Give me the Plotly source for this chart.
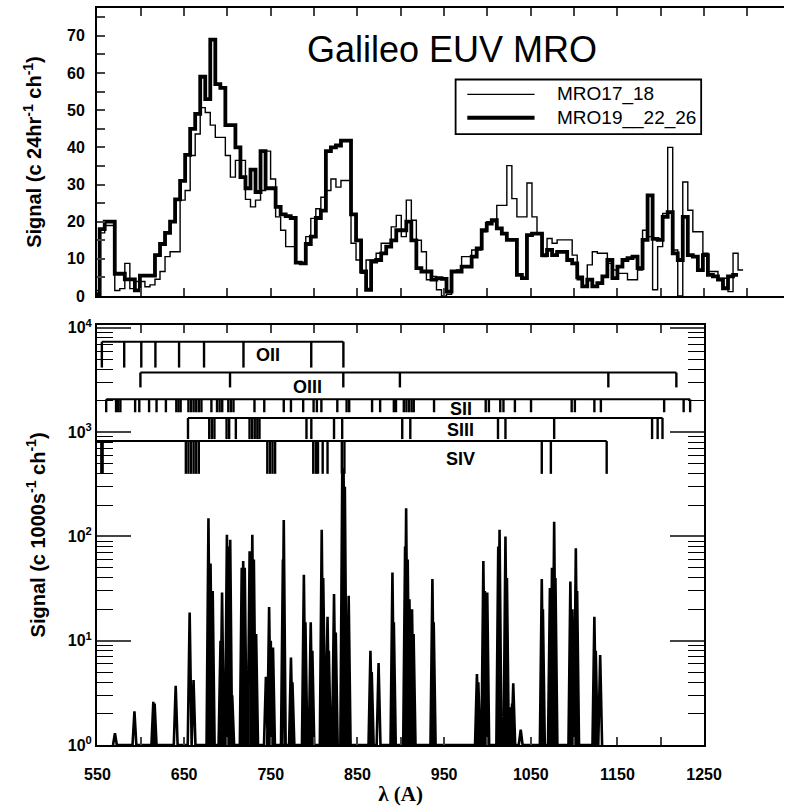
import plotly.graph_objects as go

# ---------------- Top panel: Galileo EUV channel histograms ----------------
chan_start = 546.8   # left edge of first channel (Angstrom)
chan_width = 5.8     # channel width (Angstrom)

mro17_18 = [
    1.5, 17, 19, 19, 1.5, 2, 8.8, 2, 3.9, 3.9,
    2.5, 3, 4.5, 6.6, 10.6, 11.9, 11.9, 25.8, 28.4, 37.8,
    43.6, 50.7, 49.4, 46, 42.7, 42.7, 37.8, 32, 36.5, 36.5,
    26, 24, 25.8, 28.4, 39, 31.5, 21.3, 17.7, 13.3, 13.3,
    8.8, 8.8, 16, 20.9, 23.5, 26.6, 28.4, 31.5, 29.3, 31.1,
    31.1, 14.2, 9.7, 6.1, 9.7, 9.7, 11.5, 14.2, 14.2, 18.6,
    21.7, 16, 25.8, 20.4, 15, 11.9, 4.4, 5.3, 1.7, 0,
    0.5, 6.6, 7, 10.6, 10.6, 12.4, 12.4, 17.3, 20, 20,
    24.4, 24.4, 35.1, 26.2, 21.3, 21.3, 30.4, 21.3, 16.8, 10.6,
    15.5, 14.2, 15.1, 15.1, 15.1, 11, 4.4, 2.6, 8.4, 11.9,
    11.5, 11.5, 8.8, 7, 6.1, 6.1, 4.4, 4.4, 7, 17.7,
    16, 1.7, 13.3, 22.2, 40, 12.4, 0, 30.7, 23.1, 17.3,
    17.3, 11.5, 6.6, 6.6, 4.8, 4.8, 1.2, 11.5, 7,
]

mro19_22_26 = [
    0.5, 18, 20, 20, 6, 6, 4.5, 4.5, 1.5, 5.5,
    5.5, 5.5, 11, 14, 17, 20, 26, 31, 38, 45,
    49, 59, 53, 69, 57, 56, 46, 46, 40, 32,
    29, 34, 28, 39, 29, 29, 24, 22, 21.5, 21,
    9, 8.8, 14, 16, 21, 23, 39, 40, 40.5, 41.8,
    41.8, 22, 15, 6.6, 1.7, 9.3, 9.7, 11.5, 13.3, 15,
    17.7, 17.7, 20, 15, 7.5, 6.6, 6.6, 4.4, 4.8, 4.6,
    1.2, 6.6, 6.6, 7.9, 7.9, 10.6, 12.8, 17.7, 19.5, 20.4,
    18.2, 16.8, 15.1, 15.1, 5.7, 4.8, 16.4, 16.8, 16.8, 11,
    12.4, 11, 11.9, 11.9, 9.7, 8.8, 5, 2.6, 4.4, 2.6,
    3.5, 5.3, 9.7, 4.8, 7.9, 9.7, 10.2, 10.6, 7.5, 15.1,
    27.1, 15.4, 15.1, 21.3, 22.6, 11.5, 9.7, 21.3, 11, 10.6,
    7, 11, 5.7, 5.3, 4.4, 2.1, 5.3, 5.7,
]

# ---------------- Bottom panel: model emission spectrum ----------------
spec_wl = [
    570.2, 592.7, 614.5, 616.0, 640.3, 656.4, 660.9, 678.1, 680.5, 683.0,
    692.0, 693.8, 699.4, 701.5, 703.2, 705.5, 716.5, 718.2, 720.0, 725.6,
    728.7, 730.5, 733.1, 744.4, 748.1, 750.0, 752.6, 764.0, 765.0, 773.3,
    775.0, 788.2, 790.0, 796.1, 798.0, 808.8, 810.5, 815.5, 817.0, 823.0,
    825.0, 832.5, 834.0, 835.5, 838.0, 839.9, 865.0, 866.5, 874.4, 890.4,
    892.0, 905.0, 906.2, 908.0, 910.0, 913.0, 914.8, 936.5, 938.0, 987.9,
    989.5, 995.3, 997.0, 999.8, 1012.5, 1014.0, 1020.8, 1022.5, 1025.3, 1028.5,
    1029.8, 1038.4, 1062.7, 1064.0, 1072.1, 1074.5, 1077.0, 1078.5, 1095.7, 1098.0,
    1102.0, 1103.5, 1123.4, 1125.0, 1130.1,
]
spec_peak = [
    1.3, 2.1, 2.6, 2.5, 3.7, 18.6, 4.2, 149, 55, 30,
    10, 29, 104, 80, 93, 3.0, 50, 58, 50, 72,
    104, 60, 11.6, 4.5, 21, 10, 8.6, 60, 144, 6.9,
    4.0, 43, 15, 15, 8, 116, 40, 17, 8, 28,
    12, 400, 450, 300, 15, 27, 8, 5, 6.1, 45,
    15, 80, 186, 60, 25, 20, 11.6, 39, 15, 4.8,
    4.0, 58, 30, 29, 80, 116, 100, 40, 2.3, 2.5,
    3.9, 1.4, 39, 20, 32, 50, 138, 40, 37, 20,
    77, 30, 17, 8, 7.3,
]

# ---------------- Ion line identifications (Angstrom) ----------------
oii_lines = [555.1, 580.9, 600.6, 616.9, 644.2, 673.0, 718.5, 796.7, 833.8]
oiii_lines = [599.6, 703.0, 833.7, 899.0, 1139.5, 1218.0]
sii_lines = [
    560.1, 571.5, 574.0, 576.5, 593.5, 598.3, 609.6, 618.2, 629.0, 641.0,
    643.5, 646.0, 655.0, 658.0, 661.0, 664.0, 667.0, 670.0, 681.5, 688.0,
    691.0, 694.0, 701.0, 704.0, 707.0, 731.2, 742.5, 765.0, 773.3, 787.4,
    799.4, 803.2, 808.4, 826.8, 837.5, 840.5, 866.9, 876.2, 892.0, 894.5,
    903.5, 906.5, 909.5, 912.5, 915.0, 938.4, 998.0, 1001.7, 1014.8, 1018.5,
    1031.7, 1050.3, 1097.2, 1100.9, 1123.4, 1130.9, 1203.9, 1226.4, 1233.9,
]
siii_lines = [
    654.5, 679.0, 682.0, 685.0, 699.0, 702.0, 709.7, 725.5, 728.5, 731.5,
    734.5, 737.0, 791.2, 796.8, 823.0, 832.4, 901.7, 911.0, 1012.2, 1020.8,
    1077.0, 1190.0, 1196.4, 1202.0,
]
siv_lines = [
    554.5, 556.0, 652.0, 655.0, 658.0, 661.0, 664.0, 667.0, 746.0, 749.0,
    752.0, 755.0, 799.0, 802.0, 804.5, 809.9, 815.5, 832.0, 835.0, 1062.7,
    1073.2, 1137.6,
]

x_ticks = list(range(550, 1351, 50))
top_y_ticks = list(range(0, 76, 5))
log_ticks = [1, 10, 100, 1000, 10000]

# ---------------- Geometry helpers (pixel -> paper) ----------------
W, H = 802, 809
ML, MR, MT, MB = 97, 0, 3, 64


def px(x):
    return (x - ML) / (W - ML - MR)


def py(y):
    return (H - MB - y) / (H - MB - MT)


def steps(values):
    xs = [chan_start + chan_width * i for i in range(len(values) + 1)]
    return xs, list(values) + [values[-1]]


fig = go.Figure()

# top panel histograms
x_thin, y_thin = steps(mro17_18)
x_thick, y_thick = steps(mro19_22_26)
fig.add_trace(go.Scatter(x=x_thin, y=y_thin, mode="lines", line_shape="hv",
                         line=dict(color="black", width=1.4), name="MRO17_18",
                         xaxis="x", yaxis="y", showlegend=False))
fig.add_trace(go.Scatter(x=x_thick, y=y_thick, mode="lines", line_shape="hv",
                         line=dict(color="black", width=3.8), name="MRO19__22_26",
                         xaxis="x", yaxis="y", showlegend=False))

# bottom panel spectrum: each line drawn as a narrow spike from the baseline
hw = 2.2
sx, sy = [], []
for c, a in sorted(zip(spec_wl, spec_peak)):
    sx += [c - hw, c, c + hw]
    sy += [1, a, 1]
fig.add_trace(go.Scatter(x=sx, y=sy, mode="lines",
                         line=dict(color="black", width=2.6),
                         xaxis="x2", yaxis="y2", showlegend=False))

shapes = []
annotations = []

# ion combs: (label, lines, bar y, tick end y, label x in Angstrom, label y)
combs = [
    ("OII", oii_lines, 339, 365, 747, 352),
    ("OIII", oiii_lines, 370, 385, 792, 385),
    ("SII", sii_lines, 397, 410, 969, 407),
    ("SIII", siii_lines, 415.7, 437, 969, 428),
    ("SIV", siv_lines, 439, 472, 969, 457),
]
for name, lines, yh, yt, lx, ly in combs:
    lo = min(lines)
    if name == "SIV":
        lo = 549.5
    shapes.append(dict(type="line", xref="x2", yref="paper", x0=lo, x1=max(lines),
                       y0=py(yh), y1=py(yh), line=dict(color="black", width=2)))
    for wl in lines:
        shapes.append(dict(type="line", xref="x2", yref="paper", x0=wl, x1=wl,
                           y0=py(yh), y1=py(yt), line=dict(color="black", width=2.4)))
    annotations.append(dict(text=name, xref="x2", yref="paper", x=lx, y=py(ly),
                            showarrow=False, xanchor="center", yanchor="middle",
                            font=dict(family="Liberation Sans", size=18, weight="bold",
                                      color="black")))

# legend box
shapes.append(dict(type="rect", xref="paper", yref="paper",
                   x0=px(465), x1=px(717), y0=py(130), y1=py(75),
                   line=dict(color="black", width=1.8), fillcolor="white", layer="below"))
shapes.append(dict(type="line", xref="paper", yref="paper", x0=px(477), x1=px(546),
                   y0=py(90), y1=py(90), line=dict(color="black", width=1.4)))
shapes.append(dict(type="line", xref="paper", yref="paper", x0=px(477), x1=px(546),
                   y0=py(113.5), y1=py(113.5), line=dict(color="black", width=3.8)))
for txt, yy in (("MRO17_18", 90), ("MRO19__22_26", 113.5)):
    annotations.append(dict(text=txt, xref="paper", yref="paper", x=px(567), y=py(yy),
                            showarrow=False, xanchor="left", yanchor="middle",
                            font=dict(family="Liberation Sans", size=19, color="black")))

# title
annotations.append(dict(text="Galileo EUV MRO", xref="paper", yref="paper",
                        x=px(461), y=py(45), showarrow=False,
                        xanchor="center", yanchor="middle",
                        font=dict(family="Liberation Sans", size=36, color="black")))

tick_font = dict(family="Liberation Sans", size=16, weight="bold", color="black")
title_font = dict(family="Liberation Sans", size=20, weight="bold", color="black")

fig.update_layout(
    width=W, height=H,
    margin=dict(l=ML, r=MR, t=MT, b=MB, pad=0),
    paper_bgcolor="white", plot_bgcolor="white",
    shapes=shapes, annotations=annotations,
    xaxis=dict(domain=[0, 1], range=[549.5, 1342.2], anchor="y",
               tickvals=x_ticks, ticks="inside", ticklen=8, tickwidth=1.5,
               showticklabels=False, showline=True, linewidth=2, linecolor="black",
               mirror="ticks", showgrid=False, zeroline=False),
    yaxis=dict(domain=[py(293), 1], range=[0, 77.5], anchor="x",
               tickvals=top_y_ticks,
               ticktext=[str(v) if v % 10 == 0 else "" for v in top_y_ticks],
               ticks="inside", ticklen=8, tickwidth=1.5, tickfont=tick_font,
               ticklabelstandoff=7,
               showline=True, linewidth=2, linecolor="black",
               showgrid=False, zeroline=False,
               title=dict(text="Signal (c 24hr<sup>-1</sup> ch<sup>-1</sup>)",
                          font=title_font, standoff=20)),
    xaxis2=dict(domain=[0, px(720)], range=[549.5, 1250], anchor="y2",
                tickvals=x_ticks[:15],
                ticktext=[str(v) if (v - 550) % 100 == 0 else "" for v in x_ticks[:15]],
                ticks="inside", ticklen=8, tickwidth=1.5, tickfont=tick_font,
                ticklabelstandoff=14,
                showline=True, linewidth=2, linecolor="black", mirror="ticks",
                showgrid=False, zeroline=False,
                title=dict(text="λ (A)", standoff=4,
                           font=dict(family="Liberation Serif", size=21, weight="bold",
                                     color="black"))),
    yaxis2=dict(type="log", domain=[0, py(322)], range=[0, 4.029], anchor="x2",
                tickvals=log_ticks,
                ticktext=["10<sup>%d</sup>" % i for i in range(5)],
                ticks="inside", ticklen=34, tickwidth=1.5, tickfont=tick_font,
                minor=dict(ticks="inside", ticklen=16, tickwidth=1, dtick="D1",
                           tickcolor="black", showgrid=False),
                showline=True, linewidth=2, linecolor="black", mirror="ticks",
                showgrid=False, zeroline=False,
                title=dict(text="Signal (c 1000s<sup>-1</sup> ch<sup>-1</sup>)",
                           font=title_font, standoff=17)),
)

fig.write_html("out.html")
